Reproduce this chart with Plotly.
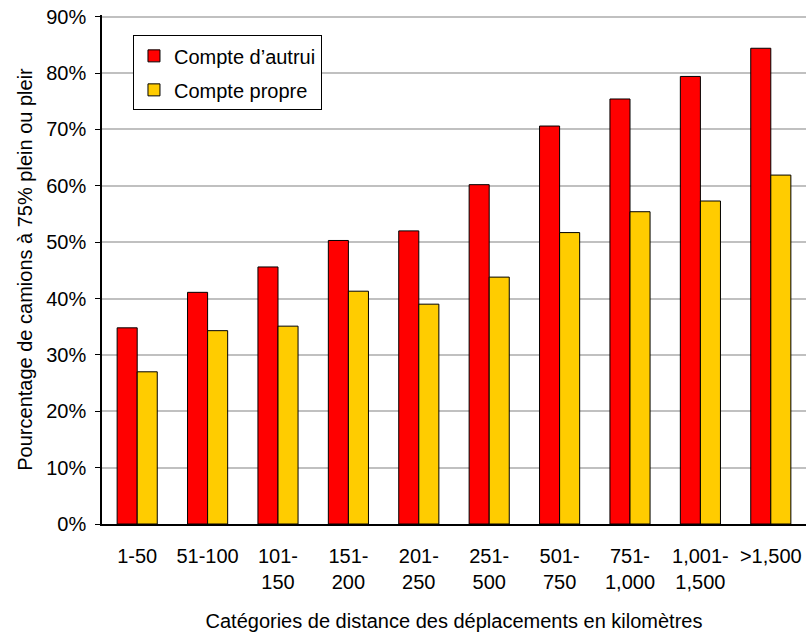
import plotly.graph_objects as go

categories = ["1-50", "51-100", "101-<br>150", "151-<br>200", "201-<br>250", "251-<br>500",
              "501-<br>750", "751-<br>1,000", "1,001-<br>1,500", ">1,500"]
compte_autrui = [34.8, 41.1, 45.6, 50.3, 52.0, 60.2, 70.6, 75.4, 79.4, 84.4]
compte_propre = [27.0, 34.3, 35.1, 41.3, 39.0, 43.8, 51.7, 55.4, 57.3, 61.9]
y_ticks = [0, 10, 20, 30, 40, 50, 60, 70, 80, 90]
y_labels = [f"{v}%" for v in y_ticks]

font = "Liberation Sans, Arial, sans-serif"

fig = go.Figure()
fig.add_trace(go.Bar(name="Compte d\u2019autrui", x=categories, y=compte_autrui, legendgroup="a",
                     marker=dict(color="#FF0000", line=dict(color="#000000", width=1))))
fig.add_trace(go.Bar(name="Compte propre", x=categories, y=compte_propre, legendgroup="b",
                     marker=dict(color="#FFCC00", line=dict(color="#000000", width=1))))

fig.update_layout(
    width=806, height=634,
    margin=dict(l=102, r=0, t=15, b=110, autoexpand=False),
    plot_bgcolor="white", paper_bgcolor="white",
    barmode="group", bargap=0.43, bargroupgap=0,
    font=dict(family=font, size=20, color="#000000"),
    showlegend=True,
    legend=dict(x=0.044, y=0.96, xanchor="left", yanchor="top",
                bordercolor="#000000", borderwidth=1, bgcolor="white",
                font=dict(size=20), traceorder="grouped", tracegroupgap=5,
                itemwidth=30),
    xaxis=dict(showline=True, linecolor="#000000", linewidth=2, ticks="",
               ticklabelstandoff=13,
               title=dict(text="Catégories de distance des déplacements en kilomètres",
                          font=dict(size=20), standoff=22),
               tickfont=dict(size=20), automargin=True),
    yaxis=dict(range=[0, 90.3], tickvals=y_ticks, ticktext=y_labels,
               showline=True, linecolor="#000000", linewidth=1.5,
               ticks="outside", ticklen=5, tickcolor="#000000",
               ticklabelstandoff=5, ticklabeloverflow="allow",
               showgrid=True, gridcolor="#C0C0C0", gridwidth=1.5,
               title=dict(text="Pourcentage de camions à 75% plein ou pleir",
                          font=dict(size=20), standoff=8),
               tickfont=dict(size=20), automargin=True),
)

fig.write_html("out.html",
               config={"displayModeBar": False},
               post_script="document.body.style.margin='0';document.body.style.overflow='hidden';")
